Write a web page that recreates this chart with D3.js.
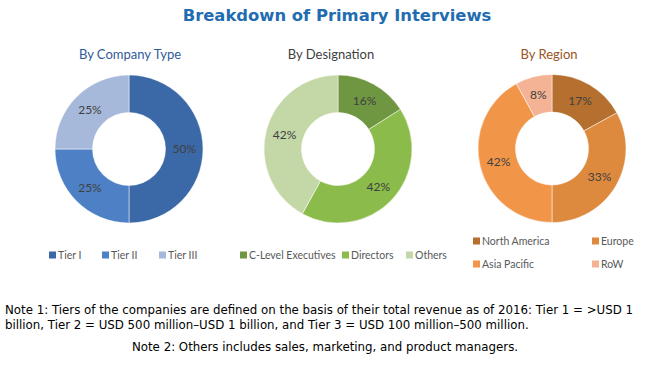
<!DOCTYPE html>
<html>
<head>
<meta charset="utf-8">
<script src="https://cdn.jsdelivr.net/npm/d3@7"></script>
<style>
  body { margin: 0; background: #fff; }
  svg text { font-family: Lato, "Open Sans", sans-serif; }
</style>
</head>
<body>
<div class="chart"></div>
<script>
// data
var companyLabels = ["Tier I", "Tier II", "Tier III"];
var companyValues = [50, 25, 25];
var designationLabels = ["C-Level Executives", "Directors", "Others"];
var designationValues = [16, 42, 42];
var regionLabels = ["North America", "Europe", "Asia Pacific", "RoW"];
var regionValues = [17, 33, 42, 8];

var svgWidth = 650;
var svgHeight = 365;

var svg = d3.select(".chart")
    .append("svg")
    .attr("width", svgWidth)
    .attr("height", svgHeight);

// title
svg.append("text")
    .attr("x", 337)
    .attr("y", 21)
    .attr("text-anchor", "middle")
    .style("font-family", "'DejaVu Sans', sans-serif")
    .style("font-weight", "bold")
    .style("font-size", "16.4px")
    .attr("fill", "#1f6db0")
    .text("Breakdown of Primary Interviews");

var outerR = 74, innerR = 36.5;

var pie = d3.pie().sort(null).value(function(d) { return d; });
var arc = d3.arc().innerRadius(innerR).outerRadius(outerR);

var panels = [
    { title: "By Company Type", titleX: 130, titleColor: "#2f5b9b", cx: 129, cy: 149,
      labels: companyLabels, values: companyValues,
      colors: ["#3b68a6", "#4d80c4", "#a7b9da"] },
    { title: "By Designation", titleX: 331, titleColor: "#3f3f3f", cx: 338, cy: 149,
      labels: designationLabels, values: designationValues,
      colors: ["#6f9640", "#8bbb4a", "#c3d7a7"] },
    { title: "By Region", titleX: 549, titleColor: "#9a5424", cx: 552, cy: 148.5,
      labels: regionLabels, values: regionValues,
      colors: ["#b56f2e", "#dd8a3f", "#f19549", "#f4b395"] }
];

panels.forEach(function(p) {
    svg.append("text")
        .attr("x", p.titleX)
        .attr("y", 59)
        .attr("text-anchor", "middle")
        .style("font-size", "13px")
        .attr("fill", p.titleColor)
        .text(p.title);

    var g = svg.append("g")
        .attr("transform", "translate(" + p.cx + "," + p.cy + ")");

    var slices = g.selectAll("g.slice")
        .data(pie(p.values))
        .enter()
        .append("g")
        .attr("class", "slice");

    slices.append("path")
        .attr("d", arc)
        .attr("fill", function(d, i) { return p.colors[i]; })
        .attr("stroke", "#fff")
        .attr("stroke-width", 0.5);

    slices.append("text")
        .attr("transform", function(d) { return "translate(" + arc.centroid(d) + ")"; })
        .attr("dy", "0.35em")
        .attr("text-anchor", "middle")
        .style("font-size", "12px")
        .attr("fill", "#404040")
        .text(function(d) { return d.data + "%"; });
});

// legends
function legendItem(x, y, color, label) {
    svg.append("rect")
        .attr("x", x)
        .attr("y", y - 3.5)
        .attr("width", 7)
        .attr("height", 7)
        .attr("fill", color);
    svg.append("text")
        .attr("x", x + 9)
        .attr("y", y)
        .attr("dy", "0.35em")
        .style("font-size", "10.5px")
        .attr("fill", "#595959")
        .text(label);
}

var companyLegendX = [49, 102, 159];
companyLabels.forEach(function(l, i) {
    legendItem(companyLegendX[i], 255, panels[0].colors[i], l);
});

var designationLegendX = [240, 342, 406];
designationLabels.forEach(function(l, i) {
    legendItem(designationLegendX[i], 255, panels[1].colors[i], l);
});

var regionLegendX = [473, 592, 473, 592];
var regionLegendY = [241, 241, 264, 264];
regionLabels.forEach(function(l, i) {
    legendItem(regionLegendX[i], regionLegendY[i], panels[2].colors[i], l);
});

// notes
var notes = [
    { text: "Note 1: Tiers of the companies are defined on the basis of their total revenue as of 2016: Tier 1 = >USD 1", x: 5, y: 314, anchor: "start" },
    { text: "billion, Tier 2 = USD 500 million\u2013USD 1 billion, and Tier 3 = USD 100 million\u2013500 million.", x: 5, y: 329, anchor: "start" },
    { text: "Note 2: Others includes sales, marketing, and product managers.", x: 325, y: 351, anchor: "middle" }
];
notes.forEach(function(n) {
    svg.append("text")
        .attr("x", n.x)
        .attr("y", n.y)
        .attr("text-anchor", n.anchor)
        .style("font-family", "'DejaVu Sans', sans-serif")
        .style("font-size", "11.8px")
        .attr("fill", "#000")
        .text(n.text);
});
</script>
</body>
</html>
